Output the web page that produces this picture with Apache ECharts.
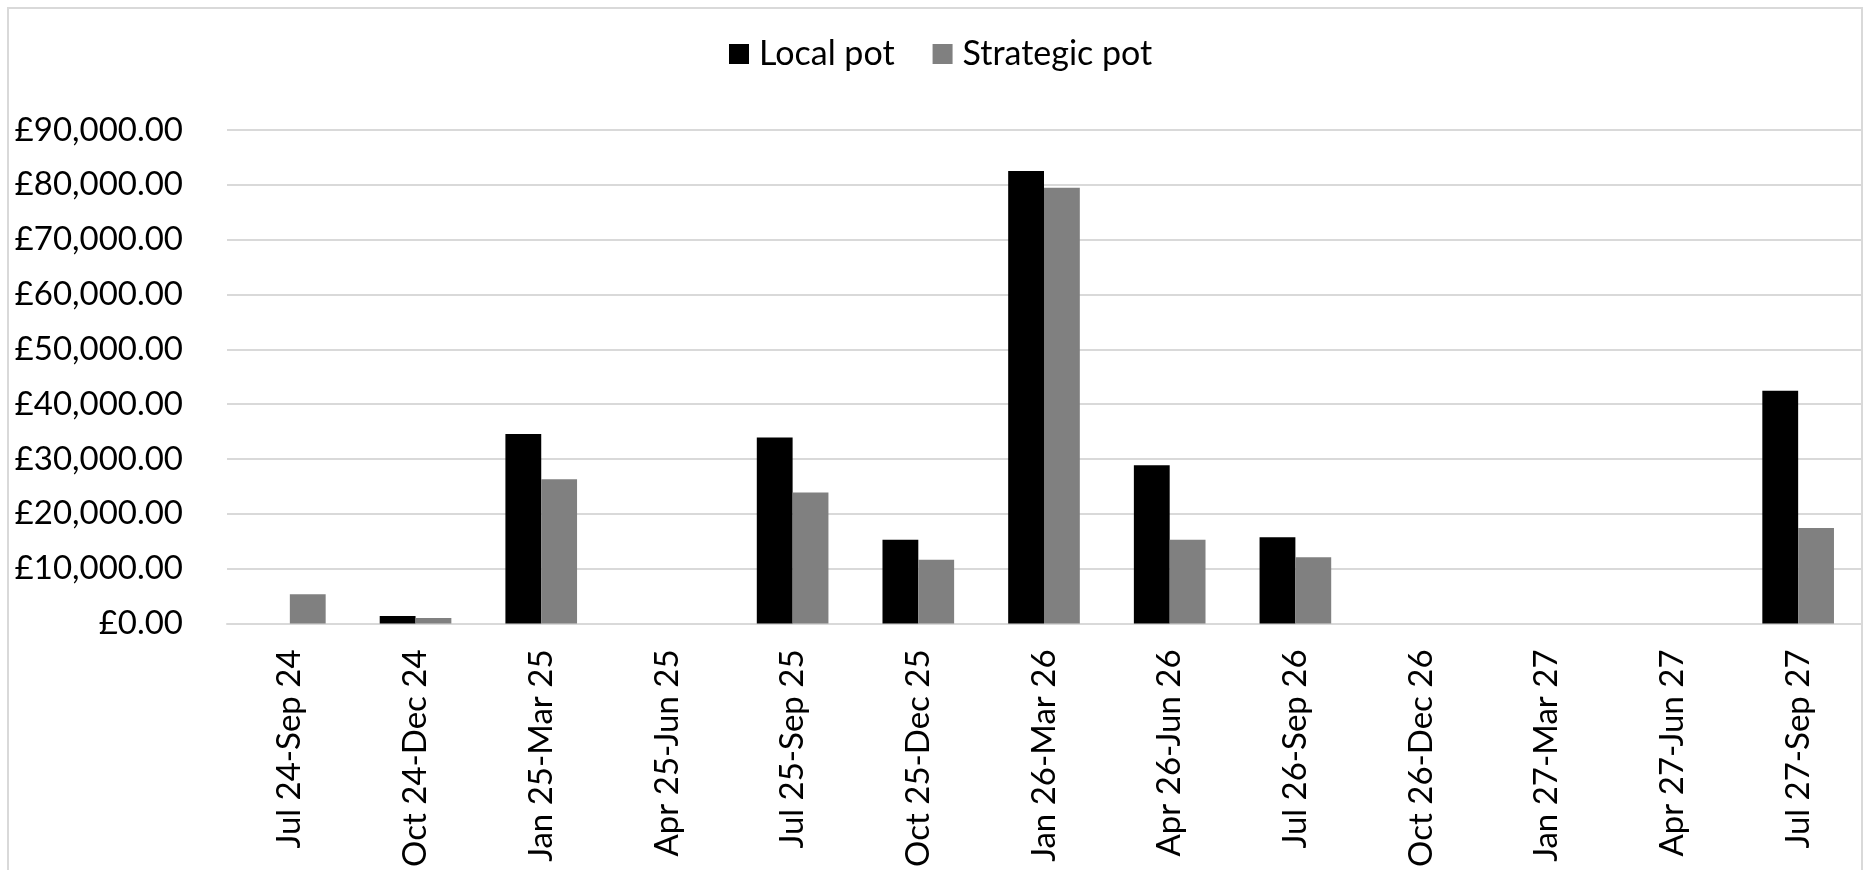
<!DOCTYPE html>
<html>
<head>
<meta charset="utf-8">
<script src="https://cdn.jsdelivr.net/npm/echarts@6/dist/echarts.min.js"></script>
<style>
  html, body { margin: 0; padding: 0; background: #ffffff; }
  #chart { width: 1869px; height: 870px; }
</style>
</head>
<body>
<div id="chart"></div>
<script>
// Quarterly periods on the category axis
const periods = [
  'Jul 24-Sep 24', 'Oct 24-Dec 24', 'Jan 25-Mar 25', 'Apr 25-Jun 25',
  'Jul 25-Sep 25', 'Oct 25-Dec 25', 'Jan 26-Mar 26', 'Apr 26-Jun 26',
  'Jul 26-Sep 26', 'Oct 26-Dec 26', 'Jan 27-Mar 27', 'Apr 27-Jun 27',
  'Jul 27-Sep 27'
];

// Spend per period (£)
const localPot     = [0, 1350, 34540, 0, 33900, 15260, 82540, 28860, 15700, 0, 0, 0, 42420];
const strategicPot = [5340, 980, 26320, 0, 23890, 11640, 79460, 15280, 12080, 0, 0, 0, 17400];

const seriesNames = ['Local pot', 'Strategic pot'];
const seriesColors = ['#000000', '#808080'];

const FONT = 'Lato';

const chart = echarts.init(document.getElementById('chart'), null, { renderer: 'canvas' });

const fmtPounds = v => '£' + Number(v).toLocaleString('en-GB', { minimumFractionDigits: 2, maximumFractionDigits: 2 });

chart.setOption({
  animation: false,
  backgroundColor: '#ffffff',
  textStyle: { fontFamily: FONT, color: '#000000' },
  graphic: [{
    type: 'rect',
    shape: { x: 8, y: 8, width: 1854, height: 880 },
    style: { fill: 'none', stroke: '#d9d9d9', lineWidth: 2 },
    silent: true,
    z: -1
  }],
  legend: {
    data: seriesNames,
    left: 724,
    top: 32,
    itemWidth: 20,
    itemHeight: 20,
    itemGap: 38,
    icon: 'rect',
    textStyle: { fontFamily: FONT, fontSize: 34, color: '#000000', padding: [0, 0, 0, 5] }
  },
  grid: { left: 227, right: 8, top: 130, bottom: 245, containLabel: false },
  xAxis: {
    type: 'category',
    data: periods,
    axisLine: { show: true, lineStyle: { color: '#d9d9d9', width: 2 } },
    axisTick: { show: false },
    axisLabel: {
      rotate: 90,
      interval: 0,
      margin: 26,
      fontFamily: FONT,
      fontSize: 33,
      color: '#000000'
    }
  },
  yAxis: {
    type: 'value',
    min: 0,
    max: 90000,
    interval: 10000,
    axisLine: { show: false },
    axisTick: { show: false },
    splitLine: { lineStyle: { color: '#d9d9d9', width: 2 } },
    axisLabel: {
      margin: 44,
      fontFamily: FONT,
      fontSize: 33,
      color: '#000000',
      formatter: fmtPounds
    }
  },
  series: [
    {
      name: seriesNames[0],
      type: 'bar',
      data: localPot,
      itemStyle: { color: seriesColors[0] },
      barGap: '0%',
      barCategoryGap: '43%'
    },
    {
      name: seriesNames[1],
      type: 'bar',
      data: strategicPot,
      itemStyle: { color: seriesColors[1] },
      barGap: '0%',
      barCategoryGap: '43%'
    }
  ]
});
</script>
</body>
</html>
